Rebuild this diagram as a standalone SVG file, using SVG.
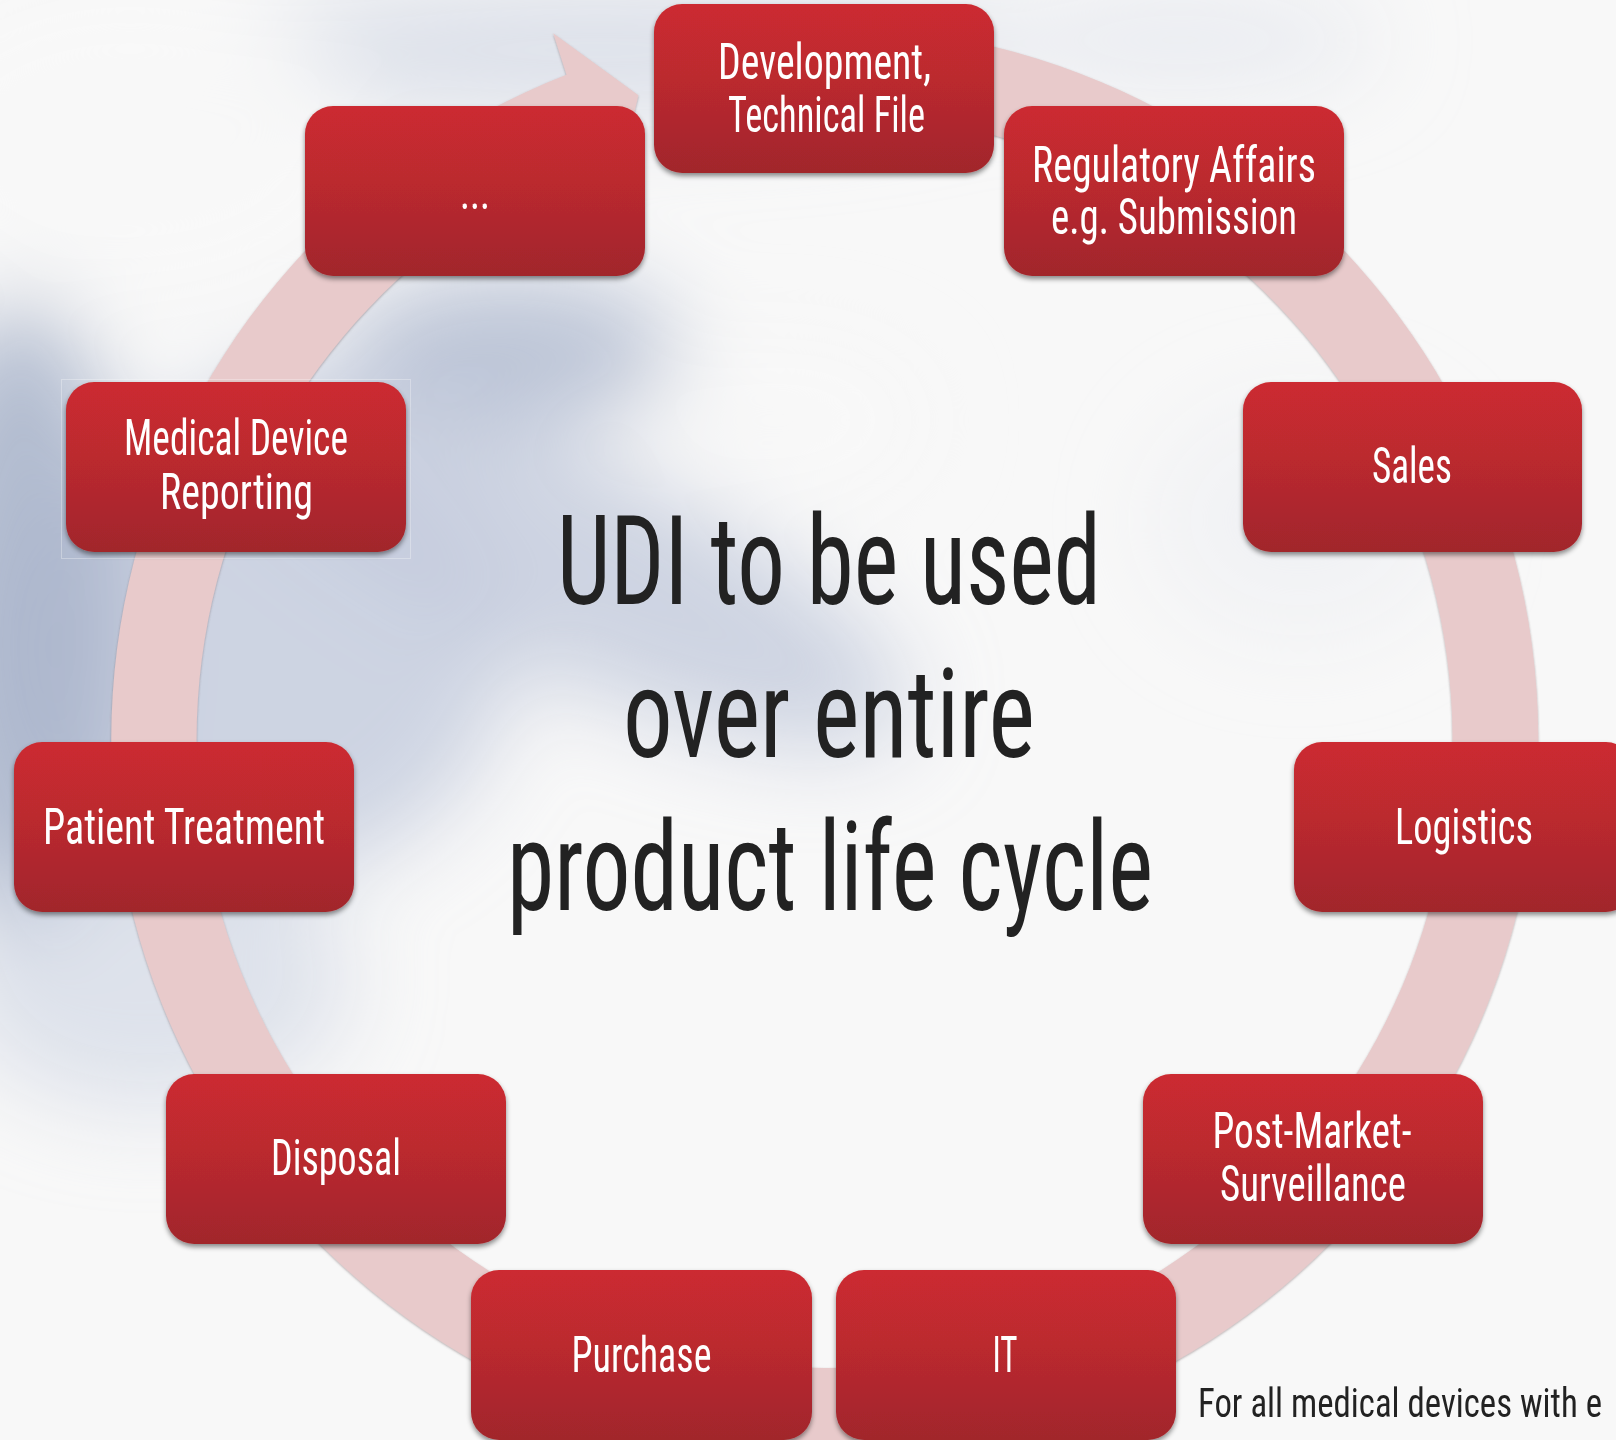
<svg xmlns="http://www.w3.org/2000/svg" width="1616" height="1440" viewBox="0 0 1616 1440">
  <defs>
    <linearGradient id="boxFill" x1="0" y1="0" x2="0" y2="1">
      <stop offset="0" stop-color="#cc2b30"/>
      <stop offset="0.45" stop-color="#bb292f"/>
      <stop offset="1" stop-color="#a1262c"/>
    </linearGradient>
    <filter id="boxShadow" x="-10%" y="-10%" width="120%" height="130%">
      <feDropShadow dx="0" dy="3" stdDeviation="2.5" flood-color="#000" flood-opacity="0.45"/>
    </filter>
    <filter id="haze" x="-50%" y="-50%" width="200%" height="200%">
      <feGaussianBlur stdDeviation="45"/>
    </filter>
    <filter id="ringShade" x="-5%" y="-5%" width="110%" height="110%">
      <feDropShadow dx="0" dy="1" stdDeviation="1" flood-color="#6d5a5c" flood-opacity="0.5"/>
    </filter>
    <style>
      .box { fill: url(#boxFill); filter: url(#boxShadow); }
      .lbl { font-family: "Liberation Sans Narrow", "Roboto Condensed", "Liberation Sans", Arial, sans-serif; font-size: 50px; fill: #ffffff; text-anchor: middle; }
      .big { font-family: "Liberation Sans Narrow", "Roboto Condensed", "Liberation Sans", Arial, sans-serif; font-size: 124px; fill: #222222; text-anchor: middle; }
      .note { font-family: "Liberation Sans Narrow", "Roboto Condensed", "Liberation Sans", Arial, sans-serif; font-size: 41px; fill: #222222; }
    </style>
  </defs>

  <!-- soft blue-grey backdrop -->
  <g id="background">
    <rect x="0" y="0" width="1616" height="1440" fill="#f8f8f8"/>
    <g filter="url(#haze)">
      <ellipse cx="600" cy="50" rx="420" ry="70" fill="#d8dde8" opacity="0.85"/>
      <ellipse cx="1180" cy="40" rx="200" ry="55" fill="#e4e7ee" opacity="0.7"/>
      <ellipse cx="250" cy="650" rx="260" ry="230" fill="#c6cede" opacity="0.85"/>
      <ellipse cx="20" cy="620" rx="110" ry="320" fill="#aab5cb" opacity="0.9"/>
      <ellipse cx="510" cy="350" rx="170" ry="75" fill="#b5bfd3" opacity="0.9"/>
      <ellipse cx="560" cy="560" rx="380" ry="110" fill="#c3cbdc" opacity="0.8" transform="rotate(25 560 560)"/>
      <ellipse cx="150" cy="980" rx="200" ry="130" fill="#d3d9e6" opacity="0.7"/>
      <ellipse cx="780" cy="420" rx="140" ry="70" fill="#f8f8f8"/>
      <ellipse cx="130" cy="140" rx="230" ry="150" fill="#f8f8f8"/>
      <ellipse cx="1300" cy="520" rx="150" ry="120" fill="#eceef2" opacity="0.5"/>
    </g>
  </g>

  <!-- circular arrow joining the stages -->
  <g id="connectors">
    <path id="cycle-arrow" filter="url(#ringShade)" fill="#e8cacb"
          d="M725.2,33.4 A713.5,713.5 0 1 1 566.5,74.8 L553.2,33.3 L638.4,95.3 L614.9,193.9 L597.4,154.5 A628,628 0 1 0 737.1,118.1 Z"/>
  </g>

  <!-- central statement -->
  <g id="headline">
    <text class="big" x="829" y="604" textLength="544" lengthAdjust="spacingAndGlyphs">UDI to be used</text>
    <text class="big" x="829" y="757" textLength="412" lengthAdjust="spacingAndGlyphs">over entire</text>
    <text class="big" x="830" y="910" textLength="646" lengthAdjust="spacingAndGlyphs">product life cycle</text>
  </g>

  <!-- stages -->
  <g id="node-development">
    <rect class="box" x="654" y="4" width="340" height="169" rx="28"/>
    <text class="lbl" x="824.5" y="78.5" textLength="213" lengthAdjust="spacingAndGlyphs">Development,</text>
    <text class="lbl" x="826.5" y="132" textLength="197" lengthAdjust="spacingAndGlyphs">Technical File</text>
  </g>
  <g id="node-regulatory">
    <rect class="box" x="1004" y="106" width="340" height="170" rx="28"/>
    <text class="lbl" x="1174" y="181.5" textLength="284" lengthAdjust="spacingAndGlyphs">Regulatory Affairs</text>
    <text class="lbl" x="1174" y="234" textLength="246" lengthAdjust="spacingAndGlyphs">e.g. Submission</text>
  </g>
  <g id="node-sales">
    <rect class="box" x="1243" y="382" width="339" height="170" rx="28"/>
    <text class="lbl" x="1412" y="482.5" textLength="80" lengthAdjust="spacingAndGlyphs">Sales</text>
  </g>
  <g id="node-logistics">
    <rect class="box" x="1294" y="742" width="340" height="170" rx="28"/>
    <text class="lbl" x="1464" y="843.5" textLength="138" lengthAdjust="spacingAndGlyphs">Logistics</text>
  </g>
  <g id="node-postmarket">
    <rect class="box" x="1143" y="1074" width="340" height="170" rx="28"/>
    <text class="lbl" x="1312" y="1148" textLength="199" lengthAdjust="spacingAndGlyphs">Post-Market-</text>
    <text class="lbl" x="1313" y="1201" textLength="186" lengthAdjust="spacingAndGlyphs">Surveillance</text>
  </g>
  <g id="node-it">
    <rect class="box" x="836" y="1270" width="340" height="170" rx="28"/>
    <text class="lbl" x="1005" y="1371.5" textLength="25" lengthAdjust="spacingAndGlyphs">IT</text>
  </g>
  <g id="node-purchase">
    <rect class="box" x="471" y="1270" width="341" height="170" rx="28"/>
    <text class="lbl" x="641.5" y="1371.5" textLength="140" lengthAdjust="spacingAndGlyphs">Purchase</text>
  </g>
  <g id="node-disposal">
    <rect class="box" x="166" y="1074" width="340" height="170" rx="28"/>
    <text class="lbl" x="336" y="1175" textLength="130" lengthAdjust="spacingAndGlyphs">Disposal</text>
  </g>
  <g id="node-patient">
    <rect class="box" x="14" y="742" width="340" height="170" rx="28"/>
    <text class="lbl" x="184" y="843.5" textLength="282" lengthAdjust="spacingAndGlyphs">Patient Treatment</text>
  </g>
  <g id="node-reporting">
    <rect x="61.5" y="379.5" width="349" height="179" fill="none" stroke="#ffffff" stroke-opacity="0.3" stroke-width="1"/>
    <rect class="box" x="66" y="382" width="340" height="170" rx="28"/>
    <text class="lbl" x="236" y="455" textLength="224" lengthAdjust="spacingAndGlyphs">Medical Device</text>
    <text class="lbl" x="236.5" y="509" textLength="153" lengthAdjust="spacingAndGlyphs">Reporting</text>
  </g>
  <g id="node-more">
    <rect class="box" x="305" y="106" width="340" height="170" rx="28"/>
    <text class="lbl" x="475" y="208.5" textLength="30" lengthAdjust="spacingAndGlyphs">...</text>
  </g>

  <!-- footnote near the lower right corner -->
  <text id="footnote" class="note" x="1198" y="1417" textLength="404" lengthAdjust="spacingAndGlyphs">For all medical devices with e</text>
</svg>
